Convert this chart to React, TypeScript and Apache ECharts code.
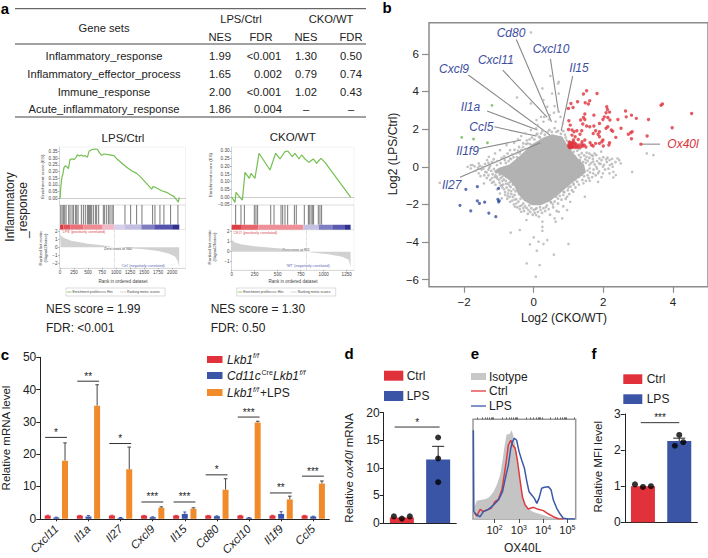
import React, { useEffect, useRef } from "react";
import * as echarts from "echarts";

// ---------- Panel b ----------
const redPts = [[1.52,4.04],[1.43,3.86],[1.82,3.89],[1.07,3.36],[1.00,3.10],[1.13,3.15],[1.26,3.45],[1.48,3.40],[1.61,3.50],[1.57,3.33],[2.10,3.19],[2.12,3.04],[2.08,2.87],[2.18,2.90],[2.03,2.65],[2.13,2.62],[1.99,2.51],[2.19,2.48],[1.89,2.30],[1.73,2.74],[1.47,2.80],[1.43,2.62],[1.47,2.51],[1.35,2.48],[2.64,2.96],[2.66,2.65],[2.81,2.74],[2.95,2.57],[3.30,2.51],[3.66,3.27],[3.70,3.33],[4.54,2.83],[3.98,2.07],[3.26,1.63],[3.08,1.20],[2.81,1.49],[2.79,1.81],[2.72,1.73],[2.83,1.86],[2.42,2.51],[2.51,2.04],[2.23,1.95],[2.13,2.12],[2.08,2.04],[2.27,1.89],[2.36,1.56],[2.18,1.27],[2.16,1.15],[1.99,1.42],[1.89,1.86],[1.78,1.91],[1.85,1.73],[1.73,2.16],[1.61,2.12],[1.52,2.16],[1.41,2.27],[1.01,2.44],[1.05,2.21],[1.00,1.98],[1.10,1.95],[1.16,1.86],[1.24,1.91],[1.38,1.91],[1.10,1.68],[1.19,1.59],[1.33,1.73],[1.71,1.77],[1.89,1.59],[1.47,1.42],[1.39,1.33],[1.28,1.45],[1.14,1.42],[1.71,1.10],[1.66,1.15],[1.78,1.24],[1.89,1.24],[1.96,1.33],[1.45,1.15],[1.41,1.10],[1.30,1.15],[1.19,1.24],[1.10,1.27],[1.02,1.05],[1.05,1.10],[1.08,1.02],[1.10,1.15],[1.14,1.05],[1.02,1.20],[1.06,1.25],[1.12,1.22],[1.17,1.10],[1.20,1.02],[1.00,1.12],[1.04,1.02],[1.25,1.08],[1.28,1.02],[1.35,1.05],[1.15,1.30],[1.22,1.18],[1.09,1.08],[1.03,1.32],[1.38,1.20],[1.50,1.05],[1.62,1.28],[2.00,1.10]];
const bluePts = [[-1.95,-1.20],[-1.62,-1.06],[-1.01,-1.15],[-2.12,-2.05],[-1.62,-1.81],[-1.56,-1.95],[-1.41,-1.88],[-1.03,-1.73],[-1.01,-1.86],[-0.99,-1.81],[-1.81,-2.34],[-1.29,-2.46],[-1.09,-2.65]];
const greenPts = [[-1.20,3.26],[-2.07,1.56],[-1.73,1.47],[-1.33,1.27]];
const grayPts = [[-0.08,7.13],[-0.64,5.58],[0.48,4.82],[0.72,4.51],[0.25,4.16],[0.70,4.42],[0.72,3.89],[0.53,3.89],[-0.48,3.68],[-0.08,3.36],[0.28,3.54],[0.39,3.19],[0.60,3.22],[0.96,3.10],[0.72,2.92],[0.58,2.87],[0.46,2.74],[0.77,2.65],[0.30,2.65],[0.21,2.65],[0.08,2.48],[0.11,2.21],[0.28,2.39],[0.44,2.51],[0.63,2.39],[0.84,2.30],[0.07,2.04],[-0.08,1.95],[-0.24,1.77],[-0.36,1.63],[-0.56,1.27],[-0.45,1.45],[-0.78,1.15],[-0.68,0.88],[-0.97,0.88],[-1.11,0.71],[-1.29,0.53],[-1.34,0.35],[-1.58,0.18],[-1.76,0.09],[-1.90,0],[-1.81,-0.09],[-1.67,-0.21],[-1.48,0],[-1.39,-0.27],[-1.06,0.09],[-1.25,0.04],[-0.83,0.35],[-0.68,0.44],[-0.50,0.71],[-0.31,1.06],[-0.17,1.24],[0.21,1.77],[0.07,1.68],[1.19,0.53],[1.33,0.35],[1.52,0.53],[1.71,0.27],[1.89,0.44],[2.08,0.39],[2.19,0.09],[2.41,0.44],[2.27,0],[2.50,0.18],[2.83,-0.27],[1.99,0],[1.80,0],[1.61,-0.09],[3.25,0.71],[3.44,0.62],[2.18,-0.35],[2.36,-0.44],[1.99,-0.35],[1.71,-0.35],[-2.70,-0.85],[-1.81,0.09],[-1.58,-0.35],[-1.53,-0.50],[-1.43,-0.88],[-1.20,-0.85],[-1.06,-0.53],[-0.92,-0.97],[-0.97,-1.42],[-0.92,-1.68],[-0.73,-1.42],[-0.68,-1.86],[-0.54,-2.12],[-0.36,-2.39],[-0.21,-2.83],[0.07,-2.57],[0.25,-2.92],[0.60,-2.74],[0.82,-2.74],[0.63,-2.92],[0.25,-3.19],[0.25,-3.40],[-0.66,-3.50],[-0.40,-3.36],[0,-3.75],[0.14,-3.98],[0.39,-3.89],[0.28,-4.10],[-0.11,-4.12],[1.00,-4.10],[0.09,-4.46],[0.58,-4.67],[-0.20,-5.13],[0.17,-5.22],[0.06,-5.84],[1.47,-1.59],[0.96,-2.30],[1.05,-1.86],[0.72,-2.39],[0.49,-1.86],[0.96,-1.59],[0.86,-1.33],[1.14,-1.33],[1.14,-0.88],[1.43,-0.88],[1.61,-0.74],[1.85,-0.80],[1.85,-0.35],[1.38,-0.44],[2.29,-0.27],[2.29,-0.57],[2.46,0.35],[2.18,0.35],[1.94,0.80],[1.75,0.71],[1.66,0.62],[-0.95,-1.00],[-0.85,-1.20],[-0.80,-0.90],[-0.75,-1.55],[-0.60,-1.60],[-0.55,-1.75],[-0.50,-1.95],[-0.40,-2.10],[-0.30,-2.20],[-0.15,-2.30],[0.05,-2.25],[0.20,-2.30],[0.35,-2.15],[0.55,-2.00],[0.70,-1.70],[0.85,-1.50],[1.00,-1.10],[1.20,-0.70],[1.30,-0.55],[1.55,-0.20],[1.60,0.10],[1.50,0.20],[1.35,0.50],[1.15,0.80],[-1.30,-0.15],[-1.10,-0.45],[-1.00,-0.70],[-0.90,-0.75],[-0.65,0.40],[-0.45,0.85],[-0.20,1.40],[0.15,1.60],[0.40,1.85],[0.65,1.85],[0.90,1.70],[0.95,1.40],[1.30,-0.10],[1.45,-0.20],[-1.35,-0.30],[-1.50,-0.15],[-1.20,-0.60],[-0.78,-0.55],[-0.82,-1.50],[-0.65,-1.30],[-0.70,-1.00],[0.65,-1.60],[0.80,-1.20],[0.95,-0.90],[1.10,-0.60]];
const fringePts = [[-1.28,-0.05],[-1.22,-0.22],[-1.18,-0.4],[-1.14,-0.12],[-1.12,-0.55],[-1.08,-0.3],[-1.05,-0.62],[-1.02,-0.2],[-0.98,-0.42],[-0.98,-0.85],[-0.95,-0.6],[-0.93,-0.3],[-0.9,-1.1],[-0.9,-0.52],[-0.88,-0.95],[-0.86,-0.68],[-0.84,-0.4],[-0.82,-1.35],[-0.8,-0.75],[-0.78,-1.1],[-0.77,-0.48],[-0.76,-1.7],[-0.74,-0.9],[-0.72,-1.25],[-0.7,-0.62],[-0.69,-1.6],[-0.68,-0.82],[-0.66,-1.08],[-0.64,-1.45],[-0.63,-0.7],[-0.62,-1.8],[-0.6,-0.95],[-0.58,-1.2],[-0.57,-2.0],[-0.55,-1.5],[-0.52,-1.3],[-0.5,-1.72],[-0.48,-1.1],[-0.47,-2.15],[-0.44,-1.85],[-0.42,-1.45],[-0.4,-2.25],[-0.38,-1.7],[-0.35,-2.05],[-0.33,-1.5],[-0.3,-1.95],[-0.28,-2.35],[-0.25,-2.1],[-0.22,-1.75],[-0.2,-2.2],[-0.17,-2.5],[-0.13,-2.05],[-0.1,-2.4],[-0.07,-2.2],[-0.03,-2.55],[0,-2.3],[0.03,-2.45],[0.08,-2.2],[0.12,-2.4],[0.15,-2.65],[0.18,-2.15],[0.24,-2.45],[0.28,-2.2],[0.33,-2.35],[0.38,-2.05],[0.43,-2.25],[0.47,-2.55],[0.5,-1.9],[0.56,-2.15],[0.6,-1.85],[0.66,-2.35],[0.7,-1.95],[0.75,-1.55],[0.8,-1.75],[0.85,-2.1],[0.88,-1.35],[0.92,-1.7],[0.98,-1.25],[1.02,-1.45],[1.06,-1.05],[1.1,-1.25],[1.15,-0.95],[1.2,-1.1],[1.25,-0.8],[1.3,-0.95],[1.4,-0.7],[1.45,-0.5],[1.5,-0.75],[1.55,-0.45],[1.58,-0.6],[1.62,-0.3],[1.68,-0.55],[1.72,-0.15],[1.78,-0.45],[1.82,-0.1],[1.88,-0.25],[1.92,0.15],[1.95,-0.55],[2.02,0.1],[2.05,-0.15],[2.1,0.25],[2.15,-0.1],[2.25,0.15],[1.42,0.25],[1.48,0.4],[1.55,0.32],[1.6,0.48],[1.65,0.2],[1.7,0.42],[1.75,0.12],[1.82,0.3],[1.88,0.18],[1.95,0.35],[2.0,0.5],[2.12,0.48],[2.25,0.42],[2.35,0.25],[1.3,0.62],[1.38,0.72],[1.45,0.6],[1.52,0.75],[1.6,0.7],[1.7,0.58],[1.8,0.62],[1.25,0.85],[1.32,0.95],[-1.4,0.15],[-1.3,0.2],[-1.2,0.25],[-1.15,0.4],[-1.05,0.3],[-0.95,0.2],[-0.92,0.45],[-0.85,0.55],[-0.8,0.2],[-0.75,0.7],[-0.72,0.3],[-0.62,0.65],[-0.58,0.5],[-0.55,0.9],[-0.48,0.5],[-0.42,1.05],[-0.4,0.72],[-0.35,0.9],[-0.3,1.25],[-0.25,0.95],[-0.22,1.2],[-0.12,1.45],[-0.1,1.2],[-0.05,1.55],[0.02,1.45],[0.1,1.75],[0.18,1.55],[0.25,1.9],[0.32,1.7],[0.45,1.95],[0.52,1.85],[0.6,2.05],[0.7,1.9],[0.78,1.75],[0.85,1.9],[0.92,1.55],[1.0,1.3],[1.05,0.9],[1.12,1.0],[-1.6,-0.05],[-1.45,-0.1],[-1.55,0.05],[-1.7,0.02],[-1.42,-0.45],[-1.3,-0.45],[-1.25,-0.7],[-1.15,-0.8],[-1.35,-0.6],[-1.1,-0.95],[-1.05,-1.2]];
const cloudOutline = [[0.53,1.73],[0.82,1.6],[1.0,1.05],[1.24,0.5],[1.45,0.1],[1.5,-0.3],[1.2,-0.7],[0.95,-1.1],[0.7,-1.5],[0.45,-1.85],[0.2,-2.05],[-0.05,-2.05],[-0.28,-1.8],[-0.45,-1.45],[-0.55,-1.05],[-0.7,-0.7],[-0.9,-0.45],[-1.15,-0.25],[-1.0,-0.05],[-0.7,0.12],[-0.42,0.55],[-0.05,1.2],[0.28,1.55]];
const leaderLines = [[-0.50,6.76,0.51,2.39],[0.48,5.73,0.71,2.92],[1.12,4.81,0.79,1.91],[-0.89,5.13,0.39,2.62],[-1.88,4.87,0.47,1.68],[-1.34,2.96,0.11,1.95],[-1.13,2.12,0.07,1.63],[-1.62,0.94,-0.36,1.42],[-2.12,-0.56,0.19,1.27],[3.09,1.20,3.63,1.20]];

// ---------- Panel a ----------
const tableRows = [
  ["Inflammatory_response","1.99","<0.001","1.30","0.50"],
  ["Inflammatory_effector_process","1.65","0.002","0.79","0.74"],
  ["Immune_response","2.00","<0.001","1.02","0.43"],
  ["Acute_inflammatory_response","1.86","0.004","–","–"],
];
const esLps = [[0,0],[12,0.077],[30,0.151],[48,0.176],[71,0.231],[95,0.243],[119,0.236],[149,0.221],[178,0.288],[214,0.295],[249,0.288],[285,0.305],[309,0.325],[345,0.315],[380,0.323],[416,0.313],[451,0.318],[487,0.305],[517,0.35],[564,0.362],[624,0.367],[665,0.365],[701,0.34],[743,0.32],[784,0.33],[861,0.325],[962,0.318],[1010,0.295],[1099,0.263],[1188,0.231],[1277,0.206],[1366,0.186],[1426,0.164],[1497,0.132],[1574,0.097],[1634,0.069],[1663,0.089],[1723,0.077],[1812,0.057],[1901,0.045],[1972,0.027],[2031,0.015],[2079,-0.01],[2109,-0.027],[2127,0.007]];
const hitsLps = [12,36,59,83,107,154,178,214,238,273,297,321,380,416,451,487,505,523,541,564,594,630,653,689,772,796,832,867,891,927,950,1158,1259,1366,1461,1651,1693,1782,1853,1972,2103];
const bandsLps = [[0,60,"#dc3a40"],[60,180,"#e4525a"],[180,420,"#ea7078"],[420,760,"#ee8e94"],[760,960,"#f3b8c8"],[960,1150,"#d6d0ea"],[1150,1450,"#c3bee2"],[1450,1680,"#7f7dc0"],[1680,2000,"#5553ac"],[2000,2127,"#2f3090"]];
const metricLps = [[0,2.0],[10,1.5],[60,1.2],[200,0.8],[500,0.45],[750,0.25],[970,0],[1250,-0.12],[1500,-0.25],[1750,-0.45],[1950,-0.8],[2050,-1.15],[2100,-1.7],[2125,-2.4]];
const esCko = [[0,0],[36,-0.035],[47,0.03],[98,-0.009],[116,-0.02],[145,0.161],[192,0.122],[210,0.154],[253,0.122],[297,0.285],[416,0.176],[478,0.285],[525,0.248],[579,0.296],[608,0.3],[659,0.263],[688,0.285],[731,0.248],[760,0.274],[796,0.248],[840,0.226],[887,0.248],[923,0.22],[970,0.252],[1014,0.226],[1292,0]];
const hitsCko = [43,101,138,246,264,282,424,460,536,554,579,608,681,702,789,833,843,862,876,890,941,959,977];
const bandsCko = [[0,110,"#dc3f45"],[110,290,"#e8636a"],[290,778,"#ef8f98"],[778,948,"#c4c0e2"],[948,1093,"#7e7ec2"],[1093,1231,"#5a5ab0"],[1231,1292,"#2f3090"]];
const metricCko = [[0,1.2],[30,0.95],[100,0.75],[250,0.55],[500,0.35],[700,0.2],[811,0],[900,-0.1],[1050,-0.25],[1200,-0.5],[1270,-0.8],[1292,-1.5]];

// ---------- Panel c ----------
const genes = ["Cxcl11","Il1a","Il27","Cxcl9","Il15","Cd80","Cxcl10","Il1f9","Ccl5"];
const ctrlVals = [1,1,1,1,1,1,1,1,1];
const ctrlTops = [1.1,1.05,1.1,1.05,1.05,1.05,1.05,1.1,1.05];
const ckoVals = [0.4,0.7,0.3,0.5,1.5,0.8,0.3,1.5,0.7];
const ckoTops = [0.5,1.0,0.4,0.6,2.1,0.9,0.4,2.2,0.8];
const lpsVals = [18,35,15.3,3.4,3.1,9,29.8,6,10.9];
const lpsTops = [23.5,41.5,22.2,3.7,3.4,12.4,30.2,7,11.7];
const sigC = [25.2,42.6,23.3,5.2,5.2,13.6,31.5,8,13.2];
const starsC = ["*","**","*","***","***","*","***","**","***"];

// ---------- Panel d ----------
const doseCats = ["Ctrl","LPS"];
const dVals = [1.0,11.5];
const dPts = [[-0.22,1.2],[0,0.8],[0.22,1.2],[1,15.5],[1,11.7],[1,7.4]];
const dErr = [[1,11.5,13.9]];
const dSig = [[-0.2,1.04,17.4,"*"]];

// ---------- Panel e ----------
const isoCurve = [[1.175,12.4],[1.27,18.4],[1.41,19],[1.61,19.7],[1.78,21.7],[1.96,27.4],[2.09,34],[2.23,44],[2.33,59],[2.41,72.6],[2.5,85],[2.61,85],[2.71,89],[2.8,81],[2.91,66],[2.98,49],[3.05,36],[3.15,21],[3.26,14],[3.39,10],[3.6,7],[3.87,5],[4.22,2.3],[4.63,0.7],[4.9,0]];
const ctrlCurve = [[1.175,5.7],[1.27,3],[1.41,9.7],[1.54,7.4],[1.68,9],[1.86,10.7],[2.02,17.4],[2.16,19.7],[2.3,29],[2.41,45.8],[2.49,59],[2.57,74],[2.67,79],[2.75,74],[2.85,71],[2.94,59],[3.05,39],[3.15,22],[3.26,14],[3.39,10],[3.6,11.7],[3.8,9.7],[4.01,8.4],[4.22,5],[4.42,2.3],[4.63,0.3],[4.83,0]];
const lpsCurve = [[1.13,89],[1.15,7.4],[1.27,4],[1.41,2.3],[1.54,7.4],[1.75,9.7],[1.96,14],[2.16,19],[2.33,27.4],[2.46,42.5],[2.57,54],[2.67,71],[2.74,77.6],[2.82,81],[2.91,79],[3.01,67.6],[3.12,59],[3.23,51],[3.33,37.5],[3.42,27.4],[3.53,24],[3.64,20.7],[3.74,15.7],[3.83,20.7],[3.94,30.8],[4.05,31.8],[4.22,32.4],[4.33,29],[4.42,19],[4.56,10.7],[4.7,5],[4.83,0.7],[5.04,0],[5.31,0]];
const logMajor = [2,3,4,5];
const logMinor = [1.3,1.48,1.6,1.7,1.78,1.85,1.9,1.95,2.3,2.48,2.6,2.7,2.78,2.85,2.9,2.95,3.3,3.48,3.6,3.7,3.78,3.85,3.9,3.95,4.3,4.48,4.6,4.7,4.78,4.85,4.9,4.95,5.3];

// ---------- Panel f ----------
const fVals = [1.0,2.25];
const fPts = [[-0.22,1.05],[0,0.98],[0.22,1.0],[0.88,2.12],[1,2.42],[1.11,2.22]];
const fErr = [[1,2.25,2.33]];
const fSig = [[-0.06,1.0,2.76,"***"]];

const FONT = "Liberation Sans";
const RED = "#e1313a";
const BLUE = "#3b55a6";
const ORANGE = "#f08a2b";
const INK = "#222";
const GENE_BLUE = "#3e4f9f";

function txt(x: number, y: number, text: string, size: number, o: any = {}) {
  const { rotation, ...st } = o;
  return {
    type: "text", x, y, rotation: rotation || 0, silent: true,
    style: { text, fontSize: size, fontFamily: FONT, fill: INK, align: "center", verticalAlign: "middle", ...st },
  };
}
function seg(x1: number, y1: number, x2: number, y2: number, stroke = "#333", lineWidth = 1) {
  return { type: "line", silent: true, shape: { x1, y1, x2, y2 }, style: { stroke, lineWidth } };
}
function box(x: number, y: number, width: number, height: number, fill: string) {
  return { type: "rect", silent: true, shape: { x, y, width, height }, style: { fill } };
}

// custom renderers
const renderErr = (capPx: number, color: string, lw: number) => (_: any, api: any) => {
  const a = api.coord([api.value(0), api.value(1)]);
  const b = api.coord([api.value(0), api.value(2)]);
  const st = { stroke: color, lineWidth: lw };
  return {
    type: "group",
    children: [
      { type: "line", shape: { x1: a[0], y1: a[1], x2: b[0], y2: b[1] }, style: st },
      { type: "line", shape: { x1: b[0] - capPx, y1: b[1], x2: b[0] + capPx, y2: b[1] }, style: st },
    ],
  };
};
const renderSig = (labels: string[]) => (p: any, api: any) => {
  const a = api.coord([api.value(0), api.value(2)]);
  const b = api.coord([api.value(1), api.value(2)]);
  return {
    type: "group",
    children: [
      { type: "line", shape: { x1: a[0], y1: a[1], x2: b[0], y2: b[1] }, style: { stroke: "#333", lineWidth: 1 } },
      { type: "text", style: { text: labels[p.dataIndex], x: (a[0] + b[0]) / 2, y: a[1] - 5, align: "center", verticalAlign: "middle", fontSize: 10, fontFamily: FONT, fill: "#222", letterSpacing: 0.5 } },
    ],
  };
};
const renderVLine = (color: string) => (_: any, api: any) => {
  const a = api.coord([api.value(0), 0.2]);
  const b = api.coord([api.value(0), 1]);
  return { type: "line", shape: { x1: a[0], y1: a[1], x2: b[0], y2: b[1] }, style: { stroke: color, lineWidth: 0.9 } };
};
const renderBand = (colors: string[]) => (p: any, api: any) => {
  const a = api.coord([api.value(0), 0.2]);
  const b = api.coord([api.value(1), 0]);
  return { type: "rect", shape: { x: a[0], y: a[1], width: b[0] - a[0], height: b[1] - a[1] }, style: { fill: colors[p.dataIndex] } };
};

function gseaSeries(xi: number[], yi: number[], es: number[][], hits: number[], bands: any[][], metric: number[][], zero: number) {
  return [
    { type: "line", xAxisIndex: xi[0], yAxisIndex: yi[0], data: es, symbol: "none", lineStyle: { color: "#74c050", width: 1.2 } },
    { type: "custom", xAxisIndex: xi[1], yAxisIndex: yi[1], data: hits.map((h) => [h, 1]), renderItem: renderVLine("#6a6a6a"), encode: { x: 0, y: 1 } },
    { type: "custom", xAxisIndex: xi[1], yAxisIndex: yi[1], data: bands.map((b) => [b[0], b[1]]), renderItem: renderBand(bands.map((b) => b[2])), encode: { x: [0, 1] } },
    {
      type: "line", xAxisIndex: xi[2], yAxisIndex: yi[2], data: metric, symbol: "none", lineStyle: { width: 0 },
      areaStyle: { color: "#bdbdbd", origin: 0 },
      markLine: { silent: true, symbol: "none", label: { show: false }, lineStyle: { color: "#aaa", type: "dotted", width: 0.6 }, data: [{ xAxis: zero }] },
    },
  ];
}
const tinyLabel = { fontSize: 4.6, color: "#444", margin: 2 };
const tinyTick = { length: 1.5, lineStyle: { color: "#777", width: 0.5 } };
function esAxes(gi: number, xmin: number, xmax: number) {
  return { type: "value", gridIndex: gi, min: xmin, max: xmax, axisLabel: { show: false }, axisTick: { show: false }, splitLine: { show: false }, axisLine: { show: true, onZero: true, lineStyle: { color: "#aaa", width: 0.6 } } };
}
function hiddenX(gi: number, min: number, max: number) {
  return { type: "value", gridIndex: gi, min, max, show: false, axisLine: { onZero: false } };
}
function rankX(gi: number, min: number, max: number, ticks: number[]) {
  return {
    type: "value", gridIndex: gi, min, max, splitLine: { show: false },
    axisLine: { onZero: false, show: true, lineStyle: { color: "#bbb", width: 0.5 } },
    axisTick: { ...tinyTick, customValues: ticks }, axisLabel: { ...tinyLabel, customValues: ticks, formatter: (v: number) => String(v) },
  };
}
function tinyY(gi: number, min: number, max: number, ticks: number[], fmt?: (v: number) => string) {
  return {
    type: "value", gridIndex: gi, min, max, splitLine: { show: false },
    axisLine: { show: true, onZero: false, lineStyle: { color: "#bbb", width: 0.5 } },
    axisTick: { ...tinyTick, customValues: ticks },
    axisLabel: { ...tinyLabel, customValues: ticks, formatter: fmt },
  };
}
function barY(gi: number, max: number, interval: number) {
  return {
    type: "value", gridIndex: gi, min: 0, max, interval, splitLine: { show: false },
    axisLine: { show: true, onZero: false, lineStyle: { color: INK, width: 1 } },
    axisTick: { show: true, length: 4, lineStyle: { color: INK } },
    axisLabel: { fontSize: 12, color: INK, margin: 4, fontFamily: FONT },
  };
}
function catX(gi: number, data: string[]) {
  return {
    type: "category", gridIndex: gi, data,
    axisLine: { show: true, onZero: false, lineStyle: { color: INK, width: 1 } },
    axisTick: { show: false }, axisLabel: { show: false },
  };
}
const es2 = (v: number) => v.toFixed(2).replace("-", "−");
const whole = (v: number) => String(v).replace("-", "−");

function buildOption() {
  const grid = [
    { left: 429, top: 22.7, width: 285, height: 264, show: true, borderColor: "#8c8c8c", borderWidth: 1.5 },
    { left: 59.5, top: 147, width: 126, height: 58, show: true, borderColor: "#e4e4e4", borderWidth: 0.5 },
    { left: 59.5, top: 205, width: 126, height: 24.5, show: true, borderColor: "#cfcfcf", borderWidth: 0.5 },
    { left: 59.5, top: 229.5, width: 126, height: 38.5, show: true, borderColor: "#e4e4e4", borderWidth: 0.5 },
    { left: 231.5, top: 147, width: 122.5, height: 58, show: true, borderColor: "#e4e4e4", borderWidth: 0.5 },
    { left: 231.5, top: 205, width: 122.5, height: 24.7, show: true, borderColor: "#cfcfcf", borderWidth: 0.5 },
    { left: 231.5, top: 229.7, width: 122.5, height: 40.3, show: true, borderColor: "#e4e4e4", borderWidth: 0.5 },
    { left: 40.3, top: 357.3, width: 289, height: 163 },
    { left: 383.7, top: 412.7, width: 72.6, height: 110.3 },
    { left: 473, top: 419.3, width: 102.7, height: 99.7, show: true, borderColor: "#9a9a9a", borderWidth: 1.5 },
    { left: 624.8, top: 414, width: 72.6, height: 108.3 },
  ];
  const xAxis: any[] = [
    {
      type: "value", gridIndex: 0, min: -3.01, max: 5.01, splitLine: { show: false },
      axisLine: { show: false, onZero: false }, axisTick: { show: true, length: 6, customValues: [-2, 0, 2, 4], lineStyle: { color: "#8c8c8c", width: 1.2 } },
      axisLabel: { customValues: [-2, 0, 2, 4], fontSize: 11.5, color: INK, margin: 9, formatter: whole },
    },
    esAxes(1, -10, 2238), hiddenX(2, -10, 2238), rankX(3, -10, 2238, [0, 250, 500, 750, 1000, 1250, 1500, 1750, 2000]),
    esAxes(4, -2, 1329), hiddenX(5, -2, 1329), rankX(6, -2, 1329, [0, 250, 500, 750, 1000, 1250]),
    { ...catX(7, genes), axisTick: { show: true, alignWithLabel: true, length: 2.5, lineStyle: { color: INK } }, axisLabel: { show: true, interval: 0, rotate: 45, fontSize: 11.5, fontStyle: "italic", color: INK, margin: 8, fontFamily: FONT } },
    hiddenX(7, -0.5, 8.5),
    catX(8, doseCats), hiddenX(8, -0.5, 1.5),
    {
      type: "value", gridIndex: 9, min: 1.115, max: 5.34, splitLine: { show: false }, axisLine: { show: false, onZero: false },
      axisTick: { show: true, length: 4, customValues: logMajor, lineStyle: { color: INK, width: 0.8 } },
      axisLabel: {
        customValues: logMajor, margin: 5, color: INK,
        formatter: (v: number) => `{b|10}{s|${v}}`,
        rich: { b: { fontSize: 11, fontFamily: FONT, color: INK, verticalAlign: "bottom" }, s: { fontSize: 7, fontFamily: FONT, color: INK, verticalAlign: "top" } },
      },
    },
    {
      type: "value", gridIndex: 9, min: 1.115, max: 5.34, splitLine: { show: false }, axisLine: { show: false, onZero: false },
      axisTick: { show: true, length: 2, customValues: logMinor, lineStyle: { color: INK, width: 0.6 } },
      axisLabel: { show: false },
    },
    catX(10, doseCats), hiddenX(10, -0.5, 1.5),
  ];
  const yAxis: any[] = [
    {
      type: "value", gridIndex: 0, min: -6.37, max: 7.65, splitLine: { show: false }, axisLine: { show: false, onZero: false },
      axisTick: { show: true, length: 7, customValues: [-6, -4, -2, 0, 2, 4, 6], lineStyle: { color: "#8c8c8c", width: 1.2 } },
      axisLabel: { customValues: [-6, -4, -2, 0, 2, 4, 6], fontSize: 11.5, color: INK, margin: 10, formatter: whole },
    },
    tinyY(1, -0.049, 0.382, [0, 0.05, 0.1, 0.15, 0.2, 0.25, 0.3, 0.35], es2),
    { type: "value", gridIndex: 2, min: 0, max: 1, show: false, axisLine: { onZero: false } },
    tinyY(3, -2.57, 2.21, [-2, -1, 0, 1, 2], whole),
    tinyY(4, -0.052, 0.326, [-0.05, 0, 0.05, 0.1, 0.15, 0.2, 0.25, 0.3], es2),
    { type: "value", gridIndex: 5, min: 0, max: 1, show: false, axisLine: { onZero: false } },
    tinyY(6, -1.83, 2.2, [-1, 0, 1, 2], whole),
    barY(7, 50, 10),
    barY(8, 20, 5),
    { type: "value", gridIndex: 9, min: 0, max: 100, show: false, axisLine: { onZero: false } },
    barY(10, 3, 1),
  ];
  const barColors = [RED, BLUE];
  const series: any[] = [
    // b
    {
      type: "custom", xAxisIndex: 0, yAxisIndex: 0, data: cloudOutline, encode: { x: 0, y: 1 },
      renderItem: (p: any, api: any) => {
        if (p.dataIndex !== 0) return null;
        return { type: "polygon", shape: { points: cloudOutline.map((c) => api.coord(c)) }, style: { fill: "#b2b2b2" } };
      },
    },
    { type: "scatter", xAxisIndex: 0, yAxisIndex: 0, data: fringePts, symbolSize: 2.8, itemStyle: { color: "#b2b2b2" } },
    { type: "scatter", xAxisIndex: 0, yAxisIndex: 0, data: grayPts, symbolSize: 2.6, itemStyle: { color: "#b2b2b2" } },
    { type: "scatter", xAxisIndex: 0, yAxisIndex: 0, data: redPts, symbolSize: 3.4, itemStyle: { color: "#e0323c" } },
    { type: "scatter", xAxisIndex: 0, yAxisIndex: 0, data: bluePts, symbolSize: 3.2, itemStyle: { color: "#37509f" } },
    { type: "scatter", xAxisIndex: 0, yAxisIndex: 0, data: greenPts, symbolSize: 2.8, itemStyle: { color: "#62b64a" } },
    {
      type: "custom", xAxisIndex: 0, yAxisIndex: 0, data: leaderLines, encode: { x: [0, 2], y: [1, 3] },
      renderItem: (_: any, api: any) => {
        const a = api.coord([api.value(0), api.value(1)]);
        const b = api.coord([api.value(2), api.value(3)]);
        return { type: "line", shape: { x1: a[0], y1: a[1], x2: b[0], y2: b[1] }, style: { stroke: "#8a8a8a", lineWidth: 1.1 } };
      },
    },
    // gsea
    ...gseaSeries([1, 2, 3], [1, 2, 3], esLps, hitsLps, bandsLps, metricLps, 970),
    ...gseaSeries([4, 5, 6], [4, 5, 6], esCko, hitsCko, bandsCko, metricCko, 811),
    // c
    { type: "bar", xAxisIndex: 7, yAxisIndex: 7, data: ctrlVals, barWidth: 6, barGap: "44%", itemStyle: { color: RED } },
    { type: "bar", xAxisIndex: 7, yAxisIndex: 7, data: ckoVals, barWidth: 6, barGap: "44%", itemStyle: { color: BLUE } },
    { type: "bar", xAxisIndex: 7, yAxisIndex: 7, data: lpsVals, barWidth: 6, barGap: "44%", itemStyle: { color: ORANGE } },
    { type: "custom", xAxisIndex: 8, yAxisIndex: 7, encode: { x: 0, y: [1, 2] }, data: genes.map((_, i) => [i - 0.27, ctrlVals[i], ctrlTops[i]]), renderItem: renderErr(1.5, RED, 1) },
    { type: "custom", xAxisIndex: 8, yAxisIndex: 7, encode: { x: 0, y: [1, 2] }, data: genes.map((_, i) => [i, ckoVals[i], ckoTops[i]]), renderItem: renderErr(1.5, BLUE, 1) },
    { type: "custom", xAxisIndex: 8, yAxisIndex: 7, encode: { x: 0, y: [1, 2] }, data: genes.map((_, i) => [i + 0.27, lpsVals[i], lpsTops[i]]), renderItem: renderErr(1.8, "#444", 1) },
    { type: "custom", xAxisIndex: 8, yAxisIndex: 7, encode: { x: [0, 1], y: 2 }, data: genes.map((_, i) => [i - 0.35, i + 0.33, sigC[i]]), renderItem: renderSig(starsC) },
    // d
    { type: "bar", xAxisIndex: 9, yAxisIndex: 8, data: dVals, barWidth: 24, itemStyle: { color: (p: any) => barColors[p.dataIndex] } },
    { type: "custom", xAxisIndex: 10, yAxisIndex: 8, encode: { x: 0, y: [1, 2] }, data: dErr, renderItem: renderErr(6, "#222", 1) },
    { type: "scatter", xAxisIndex: 10, yAxisIndex: 8, data: dPts, symbolSize: 6, itemStyle: { color: "#000" } },
    { type: "custom", xAxisIndex: 10, yAxisIndex: 8, encode: { x: [0, 1], y: 2 }, data: dSig.map((s) => s.slice(0, 3)), renderItem: renderSig(dSig.map((s) => s[3] as string)) },
    // e
    { type: "line", xAxisIndex: 11, yAxisIndex: 9, data: isoCurve, symbol: "none", lineStyle: { width: 0 }, areaStyle: { color: "#c4c4c4", opacity: 1 } },
    { type: "line", xAxisIndex: 11, yAxisIndex: 9, data: ctrlCurve, symbol: "none", lineStyle: { color: "#dd3a3f", width: 1.5 } },
    { type: "line", xAxisIndex: 11, yAxisIndex: 9, data: lpsCurve, symbol: "none", lineStyle: { color: "#3a5aa8", width: 1.5 } },
    { type: "line", xAxisIndex: 12, yAxisIndex: 9, data: [], symbol: "none" },
    // f
    { type: "bar", xAxisIndex: 13, yAxisIndex: 10, data: fVals, barWidth: 24, itemStyle: { color: (p: any) => barColors[p.dataIndex] } },
    { type: "custom", xAxisIndex: 14, yAxisIndex: 10, encode: { x: 0, y: [1, 2] }, data: fErr, renderItem: renderErr(6, "#222", 1) },
    { type: "scatter", xAxisIndex: 14, yAxisIndex: 10, data: fPts, symbolSize: 6, itemStyle: { color: "#000" } },
    { type: "custom", xAxisIndex: 14, yAxisIndex: 10, encode: { x: [0, 1], y: 2 }, data: fSig.map((s) => s.slice(0, 3)), renderItem: renderSig(fSig.map((s) => s[3] as string)) },
  ];

  const g: any[] = [];
  // panel letters
  const bold = { fontWeight: "bold", fill: "#000" };
  g.push(txt(5, 8, "a", 15, bold), txt(387, 7, "b", 15, bold), txt(5, 354, "c", 15, bold), txt(349, 353, "d", 15, bold), txt(475, 353, "e", 15, bold), txt(594, 353, "f", 15, bold));
  // table
  g.push(seg(15, 8.7, 366, 8.7, "#444", 1), seg(15, 44, 366, 44, "#444", 1), seg(15, 117, 366, 117, "#444", 1));
  const ts = 11.2;
  g.push(txt(104, 28, "Gene sets", ts), txt(241, 19, "LPS/Ctrl", ts), txt(331, 19, "CKO/WT", ts));
  ["NES", "FDR", "NES", "FDR"].forEach((h, i) => g.push(txt([220, 261, 306, 351][i], 36.5, h, ts)));
  const rowY = [56, 74, 92, 109];
  const cols = [220, 264, 306, 351];
  tableRows.forEach((r, i) => {
    g.push(txt(104, rowY[i], r[0], ts));
    cols.forEach((x, j) => g.push(txt(j === 1 && !r[2].startsWith("<") ? 268 : x, rowY[i], r[j + 1], ts)));
  });
  // gsea labels
  g.push(txt(123, 138, "LPS/Ctrl", 11.5), txt(292.7, 137, "CKO/WT", 11.5));
  g.push(txt(10, 207, "Inflammatory", 12, { rotation: Math.PI / 2 }), txt(23, 210, "_response", 12, { rotation: Math.PI / 2 }));
  const tiny = (x: number, y: number, s: string, o: any = {}) => txt(x, y, s, 4.4, { fill: "#444", ...o });
  g.push(
    tiny(42.7, 176.7, "Enrichment score (ES)", { rotation: Math.PI / 2 }),
    tiny(40, 248, "Ranked list metric", { rotation: Math.PI / 2 }),
    tiny(45, 248, "(Signal2Noise)", { rotation: Math.PI / 2 }),
    tiny(123, 281, "Rank in ordered dataset", { fontSize: 4.6 }),
    tiny(62, 232, "'LPS' (positively correlated)", { align: "left", fill: "#d8434a", fontSize: 3.6 }),
    tiny(143, 265.7, "'Ctrl' (negatively correlated)", { fill: "#5a62b5", fontSize: 3.6 }),
    tiny(118, 248.7, "Zero cross at 960", { fontSize: 3.6 }),
    tiny(210.7, 175, "Enrichment score (ES)", { rotation: Math.PI / 2 }),
    tiny(209, 247, "Ranked list metric", { rotation: Math.PI / 2 }),
    tiny(214, 247, "(Signal2Noise)", { rotation: Math.PI / 2 }),
    tiny(293, 281, "Rank in ordered dataset", { fontSize: 4.6 }),
    tiny(233, 232.5, "'CKO' (positively correlated)", { align: "left", fill: "#d8434a", fontSize: 3.6 }),
    tiny(308, 265.7, "'WT' (negatively correlated)", { fill: "#5a62b5", fontSize: 3.6 }),
    tiny(296, 250, "Zero cross at 811", { fontSize: 3.6 }),
  );
  [0, 170.7].forEach((dx) => {
    g.push({ type: "rect", silent: true, shape: { x: 66 + dx, y: 288, width: 99, height: 8 }, style: { fill: "#fff", stroke: "#bbb", lineWidth: 0.5 } });
    g.push(seg(67 + dx, 292, 71.5 + dx, 292, "#74c050", 0.8), seg(99 + dx, 292, 106 + dx, 292, "#555", 0.6), seg(120 + dx, 292, 126 + dx, 292, "#bbb", 0.6));
    g.push(tiny(72.5 + dx, 292, "Enrichment profile", { align: "left", fontSize: 3.3 }), tiny(107 + dx, 292, "Hits", { align: "left", fontSize: 3.3 }), tiny(127 + dx, 292, "Ranking metric scores", { align: "left", fontSize: 3.3 }));
  });
  const ns = { align: "left" };
  g.push(txt(46, 309, "NES score = 1.99", 12, ns), txt(46, 328, "FDR: <0.001", 12, ns), txt(210.7, 309, "NES score = 1.30", 12, ns), txt(210.7, 328, "FDR: 0.50", 12, ns));
  // b labels
  const gi = { fontStyle: "italic", fill: GENE_BLUE };
  g.push(
    txt(511, 33, "Cd80", 12, gi), txt(551, 49.3, "Cxcl10", 12, gi), txt(495.8, 60, "Cxcl11", 12, gi), txt(454, 69, "Cxcl9", 12, gi),
    txt(579, 68.3, "Il15", 12, gi), txt(470.5, 107.3, "Il1a", 12, gi), txt(481.3, 126.7, "Ccl5", 12, gi), txt(467.5, 150.7, "Il1f9", 12, gi),
    txt(451.7, 185, "Il27", 12, gi), txt(683, 144, "Ox40l", 12, { fontStyle: "italic", fill: "#d8343c" }),
    txt(564, 318.3, "Log2 (CKO/WT)", 12), txt(392.7, 154, "Log2 (LPS/Ctrl)", 12, { rotation: Math.PI / 2 }),
  );
  // c legend + label
  g.push(txt(6, 438, "Relative mRNA level", 11.5, { rotation: Math.PI / 2 }));
  g.push(box(207, 356, 15.5, 7, RED), box(207, 372, 15.5, 7, BLUE), box(207, 389, 15.5, 7, ORANGE));
  const iL = { fontStyle: "italic", align: "left" };
  g.push(
    txt(227, 359.5, "Lkb1", 12, iL), txt(253, 355.5, "f/f", 7, iL),
    txt(227, 376, "Cd11c", 12, iL), txt(261.5, 372, "Cre", 7, { align: "left" }), txt(273, 376, "Lkb1", 12, iL), txt(299.5, 372, "f/f", 7, iL),
    txt(227, 393, "Lkb1", 12, iL), txt(253, 389, "f/f", 7, iL), txt(260, 393, "+LPS", 12, { align: "left" }),
  );
  // d legend + label
  g.push(box(384, 370.7, 19.3, 10, RED), box(384, 391, 19.3, 10, BLUE), txt(406.7, 375.7, "Ctrl", 12, { align: "left" }), txt(406.7, 396, "LPS", 12, { align: "left" }));
  g.push(txt(349, 468, "Relative ox40l mRNA", 11.5, { rotation: Math.PI / 2, text: "{a|Relative }{b|ox40l}{a| mRNA}", rich: { a: { fontSize: 11.5, fontFamily: FONT, fill: INK }, b: { fontSize: 11.5, fontFamily: FONT, fontStyle: "italic", fill: INK } } }));
  // e legend + label
  g.push(box(471, 373, 15, 7, "#c8c8c8"), seg(471, 391, 486, 391, "#dd3a3f", 1.3), seg(471, 406, 486, 406, "#3a5aa8", 1.3));
  g.push(txt(489, 376.7, "Isotype", 12, { align: "left" }), txt(489, 391, "Ctrl", 12, { align: "left" }), txt(489, 405.7, "LPS", 12, { align: "left" }), txt(522.7, 548.3, "OX40L", 12));
  // f legend + label
  g.push(box(623.3, 374.3, 19, 9.7, RED), box(623.3, 394.3, 19, 9.7, BLUE), txt(646.7, 379, "Ctrl", 12, { align: "left" }), txt(646.7, 399, "LPS", 12, { align: "left" }));
  g.push(txt(597.7, 466.7, "Relative MFI level", 11.5, { rotation: Math.PI / 2 }));

  return {
    animation: false,
    backgroundColor: "#fff",
    textStyle: { fontFamily: FONT },
    grid, xAxis, yAxis, series,
    graphic: { elements: g },
  };
}

export default function App() {
  const ref = useRef<HTMLDivElement>(null);
  useEffect(() => {
    const chart = echarts.init(ref.current!, undefined, { renderer: "svg" });
    chart.setOption(buildOption() as any);
    return () => chart.dispose();
  }, []);
  return <div ref={ref} style={{ position: "absolute", left: 0, top: 0, width: 708, height: 558 }} />;
}
